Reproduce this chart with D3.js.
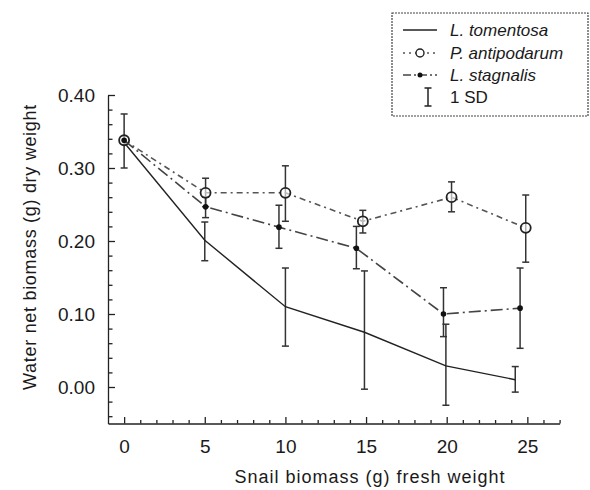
<!DOCTYPE html>
<html>
<head>
<meta charset="utf-8">
<script src="https://cdn.jsdelivr.net/npm/d3@7"></script>
<style>
  body { margin: 0; background: #fff; }
  text { font-family: "Liberation Sans", Arial, Helvetica, sans-serif; fill: #1a1a1a; }
</style>
</head>
<body>
<div id="chart"></div>
<script>
// Data
const tomentosaX = [0, 5, 10, 14.9, 19.95, 24.25];
const tomentosaY = [0.335, 0.201, 0.11, 0.075, 0.029, 0.01];
const tomentosaSD = [null, [0.173, 0.226], [0.056, 0.163], [-0.003, 0.159], [-0.025, 0.086], [-0.007, 0.028]];

const antipodarumX = [0, 5.05, 10, 14.8, 20.3, 24.9];
const antipodarumY = [0.338, 0.266, 0.266, 0.227, 0.26, 0.218];
const antipodarumSD = [[0.30, 0.374], [0.247, 0.286], [0.227, 0.303], [0.211, 0.242], [0.24, 0.281], [0.171, 0.263]];

const stagnalisX = [0, 5.05, 9.6, 14.4, 19.8, 24.55];
const stagnalisY = [0.338, 0.247, 0.219, 0.19, 0.10, 0.108];
const stagnalisSD = [null, [0.232, 0.26], [0.19, 0.249], [0.162, 0.22], [0.069, 0.136], [0.053, 0.163]];

const xMajor = [0, 5, 10, 15, 20, 25];
const yMajor = [0.00, 0.10, 0.20, 0.30, 0.40];

const width = 590, height = 490;

const svg = d3.select("#chart").append("svg").attr("width", width).attr("height", height);

const x = d3.scaleLinear().domain([-1, 27]).range([108, 559.6]);
const y = d3.scaleLinear().domain([-0.05, 0.40]).range([423.5, 95]);

// Axes: minor ticks first, then major with labels
const xMinor = d3.range(0, 28).filter(v => v % 5 !== 0);
const yMinor = d3.range(-2, 20).map(i => +(i * 0.02).toFixed(2)).filter(v => Math.round(v * 100) % 10 !== 0);

svg.append("g")
  .attr("transform", `translate(0,${y(-0.05)})`)
  .call(d3.axisBottom(x).tickValues(xMinor).tickSize(-3.5).tickSizeOuter(0).tickFormat(""))
  .call(g => g.selectAll("line, path").attr("stroke", "#222").attr("stroke-width", 1.3));

svg.append("g")
  .attr("transform", `translate(0,${y(-0.05)})`)
  .call(d3.axisBottom(x).tickValues(xMajor).tickSize(-6.5).tickSizeOuter(0).tickPadding(16))
  .call(g => g.select(".domain").remove())
  .call(g => g.selectAll("line").attr("stroke", "#222").attr("stroke-width", 1.3))
  .call(g => g.selectAll("text").style("font-size", "19px").attr("fill", "#1a1a1a")
    .style("font-family", "'Liberation Sans', Arial, sans-serif"));

svg.append("g")
  .attr("transform", `translate(${x(-1)},0)`)
  .call(d3.axisLeft(y).tickValues(yMinor).tickSize(-4.5).tickSizeOuter(0).tickFormat(""))
  .call(g => g.selectAll("line, path").attr("stroke", "#222").attr("stroke-width", 1.3));

svg.append("g")
  .attr("transform", `translate(${x(-1)},0)`)
  .call(d3.axisLeft(y).tickValues(yMajor).tickSize(-7).tickSizeOuter(0).tickPadding(13).tickFormat(d3.format(".2f")))
  .call(g => g.select(".domain").remove())
  .call(g => g.selectAll("line").attr("stroke", "#222").attr("stroke-width", 1.3))
  .call(g => g.selectAll("text").style("font-size", "19px").attr("fill", "#1a1a1a")
    .style("font-family", "'Liberation Sans', Arial, sans-serif"));

// Axis titles
svg.append("text")
  .attr("x", 370).attr("y", 483)
  .attr("text-anchor", "middle")
  .style("font-size", "18px")
  .style("letter-spacing", "1px")
  .text("Snail biomass (g) fresh weight");

svg.append("text")
  .attr("transform", "translate(36,247) rotate(-90)")
  .attr("text-anchor", "middle")
  .style("font-size", "18px")
  .style("letter-spacing", "0.7px")
  .text("Water net biomass (g) dry weight");

const series = [
  { name: "L. tomentosa", xs: tomentosaX, ys: tomentosaY, sd: tomentosaSD, dash: null, color: "#222", width: 1.4, marker: "none" },
  { name: "P. antipodarum", xs: antipodarumX, ys: antipodarumY, sd: antipodarumSD, dash: "6,4,2,4", color: "#555", width: 1.6, marker: "open" },
  { name: "L. stagnalis", xs: stagnalisX, ys: stagnalisY, sd: stagnalisSD, dash: "12,4,2,4", color: "#444", width: 1.6, marker: "dot" }
];

const line = d3.line().x(d => x(d.x)).y(d => y(d.y));

// Error bars
series.forEach(s => {
  const bars = s.sd.map((b, i) => b ? { x: s.xs[i], lo: b[0], hi: b[1] } : null).filter(b => b);
  const g = svg.append("g").attr("stroke", "#333").attr("stroke-width", 1.5);
  g.selectAll(".v").data(bars).enter().append("line")
    .attr("x1", d => x(d.x)).attr("x2", d => x(d.x))
    .attr("y1", d => y(d.lo)).attr("y2", d => y(d.hi));
  g.selectAll(".cl").data(bars).enter().append("line")
    .attr("x1", d => x(d.x) - 3.5).attr("x2", d => x(d.x) + 3.5)
    .attr("y1", d => y(d.lo)).attr("y2", d => y(d.lo));
  g.selectAll(".ch").data(bars).enter().append("line")
    .attr("x1", d => x(d.x) - 3.5).attr("x2", d => x(d.x) + 3.5)
    .attr("y1", d => y(d.hi)).attr("y2", d => y(d.hi));
});

// Lines and markers
series.forEach(s => {
  const pts = s.xs.map((v, i) => ({ x: v, y: s.ys[i] }));
  svg.append("path")
    .datum(pts)
    .attr("fill", "none")
    .attr("stroke", s.color)
    .attr("stroke-width", s.width)
    .attr("stroke-dasharray", s.dash)
    .attr("d", line);
  if (s.marker === "open") {
    svg.append("g").selectAll("circle").data(pts).enter().append("circle")
      .attr("cx", d => x(d.x)).attr("cy", d => y(d.y)).attr("r", 5)
      .attr("fill", "#fff").attr("fill-opacity", 0.6).attr("stroke", "#222").attr("stroke-width", 1.8);
  } else if (s.marker === "dot") {
    svg.append("g").selectAll("circle").data(pts).enter().append("circle")
      .attr("cx", d => x(d.x)).attr("cy", d => y(d.y)).attr("r", 2.8)
      .attr("fill", "#111");
  }
});

// Legend
const legend = svg.append("g");
legend.append("rect")
  .attr("x", 392).attr("y", 13).attr("width", 196).attr("height", 103)
  .attr("fill", "#fff").attr("stroke", "#444").attr("stroke-width", 1.2).attr("stroke-dasharray", "2,1");

const rowY = [30, 53, 75, 97];
series.forEach((s, i) => {
  const ry = rowY[i];
  legend.append("line")
    .attr("x1", 403).attr("x2", 437).attr("y1", ry).attr("y2", ry)
    .attr("stroke", s.color).attr("stroke-width", s.width)
    .attr("stroke-dasharray", s.dash ? (i === 1 ? "2,4" : "8,3,2,3") : null);
  if (s.marker === "open") {
    legend.append("circle").attr("cx", 420).attr("cy", ry).attr("r", 4)
      .attr("fill", "#fff").attr("stroke", "#222").attr("stroke-width", 1.4);
  } else if (s.marker === "dot") {
    legend.append("circle").attr("cx", 420).attr("cy", ry).attr("r", 2.5).attr("fill", "#111");
  }
  legend.append("text")
    .attr("x", 450).attr("y", ry + 6)
    .style("font-size", "17px").style("font-style", "italic")
    .text(s.name);
});

// 1 SD symbol
const sdY = rowY[3];
legend.append("g").attr("stroke", "#222").attr("stroke-width", 1.5)
  .call(g => {
    g.append("line").attr("x1", 428).attr("x2", 428).attr("y1", sdY - 9).attr("y2", sdY + 9);
    g.append("line").attr("x1", 424.5).attr("x2", 431.5).attr("y1", sdY - 9).attr("y2", sdY - 9);
    g.append("line").attr("x1", 424.5).attr("x2", 431.5).attr("y1", sdY + 9).attr("y2", sdY + 9);
  });
legend.append("text")
  .attr("x", 450).attr("y", sdY + 6)
  .style("font-size", "17px")
  .text("1 SD");
</script>
</body>
</html>
